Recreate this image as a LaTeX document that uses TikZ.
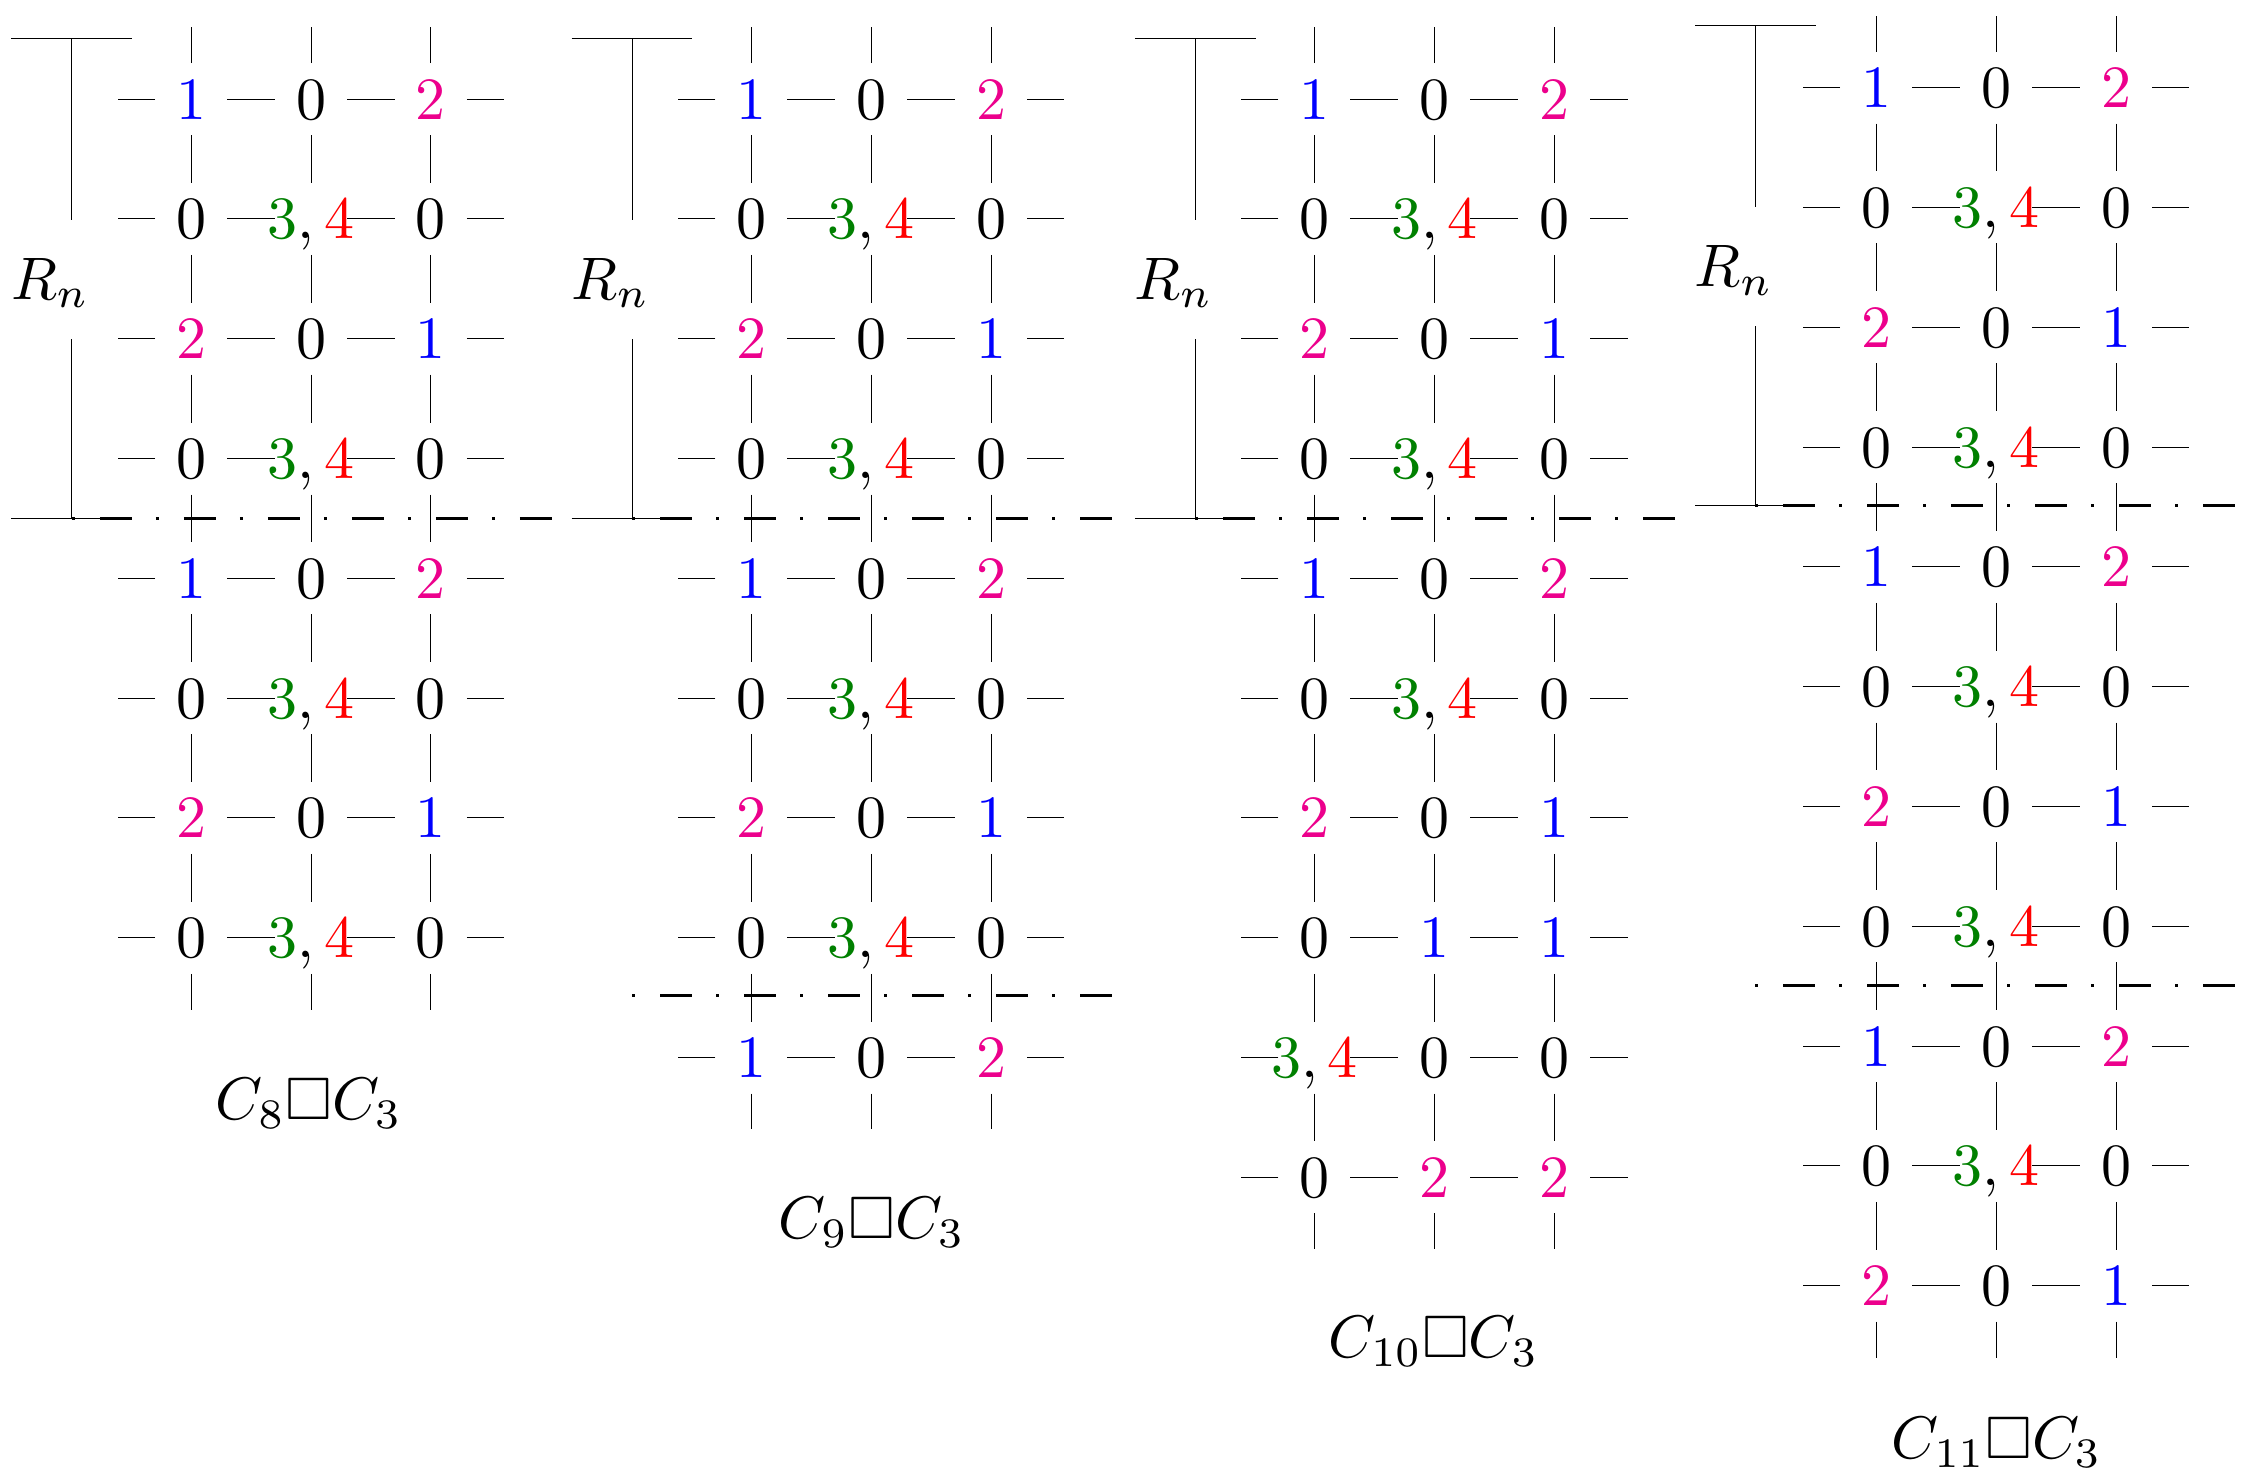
\documentclass[tikz,border=0pt]{standalone}
\usepackage{amssymb}
\usepackage{xcolor}
\definecolor{dgreen}{rgb}{0,0.5,0}
\newcommand\Zr{0}
\newcommand\On{\textcolor{blue}{1}}
\newcommand\Tw{\textcolor{magenta}{2}}
\newcommand\Th{\textcolor{dgreen}{3},\textcolor{red}{4}}
\tikzset{
 big/.style={inner sep=0pt, scale=6},
 lab/.style={big, anchor=base},
 e/.style={line width=1pt, shorten <=36pt, shorten >=36pt},
 st/.style={line width=1pt, shorten <=36pt},
 thin/.style={line width=1pt},
 dd/.style={line width=3pt, dash pattern=on 3pt off 25pt on 32pt off 24pt}
}
\newcommand\grid[5]{%
 \foreach \r/\a/\b/\c in {#4} {
   \foreach \j/\t in {1/\a,2/\b,3/\c} {
     \coordinate (#1-\r-\j) at ({#2+(\j-1)*83.5},{#3+(\r-1)*83.4});
     \node[lab] (#1-\r-\j-t) at ([yshift=-20pt]#1-\r-\j) {$\t$};
   }
   \coordinate (#1-\r-L) at ({#2-51},{#3+(\r-1)*83.4});
   \coordinate (#1-\r-R) at ({#2+167+51},{#3+(\r-1)*83.4});
   \draw[st] (#1-\r-1) -- (#1-\r-L);
   \draw[st] (#1-\r-3) -- (#1-\r-R);
   \draw[e] (#1-\r-1) -- (#1-\r-2);
   \draw[e] (#1-\r-2) -- (#1-\r-3);
 }
 \foreach \j in {1,2,3} {
   \coordinate (#1-T-\j) at ({#2+(\j-1)*83.5},{#3-50});
   \coordinate (#1-B-\j) at ({#2+(\j-1)*83.5},{#3+(#5-1)*83.4+50});
   \draw[st] (#1-1-\j) -- (#1-T-\j);
   \draw[st] (#1-#5-\j) -- (#1-B-\j);
   \foreach \r [evaluate=\r as \s using int(\r+1)] in {1,...,\numexpr#5-1\relax} {
     \draw[e] (#1-\r-\j) -- (#1-\s-\j);
   }
 }
}
\newcommand\brk[3]{% name, x of vertical, y offset
 \coordinate (#1-a) at ({#2-42},{27+#3});
 \coordinate (#1-b) at ({#2+42},{27+#3});
 \coordinate (#1-c) at (#2,{27+#3});
 \coordinate (#1-d) at (#2,{153+#3});
 \coordinate (#1-e) at (#2,{236+#3});
 \coordinate (#1-f) at (#2,{361+#3});
 \coordinate (#1-g) at ({#2-42},{361+#3});
 \coordinate (#1-h) at ({#2+20},{361+#3});
 \draw[thin] (#1-a) -- (#1-b);
 \draw[thin] (#1-c) -- (#1-d);
 \draw[thin] (#1-e) -- (#1-f);
 \draw[thin] (#1-g) -- (#1-h);
 \node[big] (#1-R) at ({#2-15},{197+#3}) {$R_n$};
}
\begin{document}
\begin{tikzpicture}[x=1.4365pt,y=-1.4365pt]
\useasboundingbox (0,0) rectangle (1560,1031);
\grid{P}{133}{69}{1/\On/\Zr/\Tw,2/\Zr/\Th/\Zr,3/\Tw/\Zr/\On,4/\Zr/\Th/\Zr,5/\On/\Zr/\Tw,6/\Zr/\Th/\Zr,7/\Tw/\Zr/\On,8/\Zr/\Th/\Zr}{8}
\grid{Q}{523}{69}{1/\On/\Zr/\Tw,2/\Zr/\Th/\Zr,3/\Tw/\Zr/\On,4/\Zr/\Th/\Zr,5/\On/\Zr/\Tw,6/\Zr/\Th/\Zr,7/\Tw/\Zr/\On,8/\Zr/\Th/\Zr,9/\On/\Zr/\Tw}{9}
\grid{S}{915}{69}{1/\On/\Zr/\Tw,2/\Zr/\Th/\Zr,3/\Tw/\Zr/\On,4/\Zr/\Th/\Zr,5/\On/\Zr/\Tw,6/\Zr/\Th/\Zr,7/\Tw/\Zr/\On,8/\Zr/\On/\On,9/\Th/\Zr/\Zr,10/\Zr/\Tw/\Tw}{10}
\grid{U}{1306}{61}{1/\On/\Zr/\Tw,2/\Zr/\Th/\Zr,3/\Tw/\Zr/\On,4/\Zr/\Th/\Zr,5/\On/\Zr/\Tw,6/\Zr/\Th/\Zr,7/\Tw/\Zr/\On,8/\Zr/\Th/\Zr,9/\On/\Zr/\Tw,10/\Zr/\Th/\Zr,11/\Tw/\Zr/\On}{11}
\brk{bp}{50}{0}
\brk{bq}{440}{0}
\brk{bs}{832}{0}
\brk{bu}{1222}{-9}
% dash-dot separators
\coordinate (d1a) at (50,361); \coordinate (d1b) at (385,361);
\coordinate (d2a) at (440,361); \coordinate (d2b) at (778,361);
\coordinate (d3a) at (440,693); \coordinate (d3b) at (778,693);
\coordinate (d4a) at (832,361); \coordinate (d4b) at (1168,361);
\coordinate (d5a) at (1222,352); \coordinate (d5b) at (1560,352);
\coordinate (d6a) at (1222,686); \coordinate (d6b) at (1560,686);
\draw[dd] (d1a) -- (d1b);
\draw[dd] (d2a) -- (d2b);
\draw[dd] (d3a) -- (d3b);
\draw[dd] (d4a) -- (d4b);
\draw[dd] (d5a) -- (d5b);
\draw[dd] (d6a) -- (d6b);
\node[big] (L1) at (215,768) {$C_8\Box C_3$};
\node[big] (L2) at (607,851) {$C_9\Box C_3$};
\node[big] (L3) at (998,934) {$C_{10}\Box C_3$};
\node[big] (L4) at (1390,1004) {$C_{11}\Box C_3$};
\end{tikzpicture}
\end{document}
